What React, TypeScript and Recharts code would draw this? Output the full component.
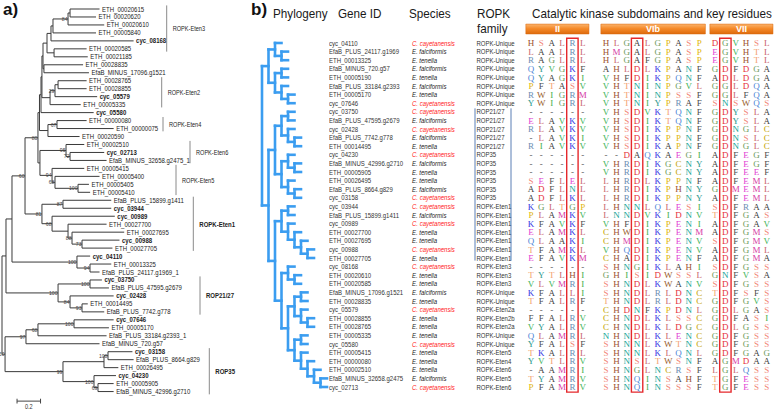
import React from "react";
import { ScatterChart, Scatter, XAxis, YAxis, ReferenceLine, ReferenceArea } from "recharts";

const SANS = "'Liberation Sans', Arial, Helvetica, sans-serif";
const SERIF = "'Liberation Serif', 'Times New Roman', serif";

// ---------- a) ML tree ----------
// leaves top to bottom, and their distance from the root (subst./site)
const A_LEAVES = [
  "ETH_00020615", "ETH_00020620", "ETH_00020610", "ETH_00005840", "cyc_08168",
  "ETH_00020585", "ETH_00021185", "ETH_00028835", "EfaB_MINUS_17096.g1521", "ETH_00028765",
  "ETH_00028855", "cyc_05579", "ETH_00005335", "cyc_05580", "ETH_00000080",
  "ETH_00000075", "ETH_00020590", "ETH_00002510", "cyc_02713", "EfaB_MINUS_32658.g2475_1",
  "ETH_00005415", "ETH_00005400", "ETH_00005405", "ETH_00005410", "EfaB_PLUS_15899.g1411",
  "cyc_03944", "cyc_00989", "ETH_00027700", "ETH_00027695", "cyc_00988",
  "ETH_00027705", "cyc_04110", "ETH_00013325", "EfaB_PLUS_24117.g1969_1", "cyc_03750",
  "EfaB_PLUS_47595.g2679", "cyc_02428", "ETH_00014495", "EfaB_PLUS_7742.g778", "cyc_07646",
  "ETH_00005170", "EfaB_PLUS_33184.g2393_1", "EfaB_MINUS_720.g57", "cyc_03158", "EfaB_PLUS_8664.g829",
  "ETH_00026495", "cyc_04230", "ETH_00005905", "EfaB_MINUS_42996.g2710",
];
const A_TIP = [
  0.83, 0.8, 0.87, 0.8, 1.12, 0.72, 0.73, 0.69, 0.74, 0.72,
  0.72, 0.81, 0.67, 0.78, 0.72, 0.95, 0.66, 0.7, 0.87, 0.89,
  0.7, 0.83, 0.74, 0.75, 0.93, 0.93, 0.96, 0.89, 1.04, 1.0,
  0.94, 0.75, 0.93, 0.83, 0.85, 0.91, 0.95, 0.73, 0.87, 0.95,
  0.91, 0.89, 0.83, 1.11, 1.12, 0.99, 0.97, 0.95, 0.95,
];

type TreeNode = { d: number; s: number | null; c: Array<TreeNode | number> };
const n = (d: number, s: number | null, ...c: Array<TreeNode | number>): TreeNode => ({ d, s, c });

// internal nodes: depth from root, bootstrap, children (numbers = leaf index)
const A_TREE = n(0, null,
  n(0.034, null,
    n(0.085, null,
      n(0.196, 60,
        n(0.306, 80,
          n(0.319, null,
            n(0.332, null,
              n(0.34, null,
                n(0.349, null,
                  n(0.383, null,
                    n(0.417, null,
                      n(0.434, null, n(0.562, 84, n(0.579, null, 1, 2), 3), 4),
                      5),
                    n(0.443, null, 6, 7)),
                  n(0.357, null, 8, 9)),
                n(0.409, null, n(0.451, 29, n(0.477, null, 10, 11), 12), 13)),
              14),
            n(0.391, null, n(0.468, 67, 15, 16), 17)),
          n(0.323, null,
            n(0.545, 95, 18, n(0.579, 72, 19, 20)),
            n(0.426, 94, 21, n(0.451, 68, 22, n(0.647, 100, 23, 24))))),
        n(0.34, 81,
          n(0.519, 87, 25, 26),
          n(0.426, 68, 27, n(0.562, null, 28, n(0.596, 88, 29, n(0.681, 73, 30, 31)))))),
      n(0.638, 100, 32, n(0.749, 94, 33, 34))),
    n(0.477, 100, n(0.749, 100, 35, 36), n(0.579, 84, 37, n(0.681, 93, 38, 39)))),
  n(0.026, 50,
    n(0.204, 97, n(0.306, 68, n(0.613, 100, 40, 41), 42), 43),
    n(0.519, 99,
      n(0.868, null, n(0.902, 100, 44, 45), 46),
      n(0.783, 100, 47, n(0.817, 69, 48, 49)))));

const A_CLADE_NAMES = ["ROPK-Eten3", "ROPK-Eten2", "ROPK-Eten4", "ROPK-Eten6", "ROPK-Eten5", "ROPK-Eten1", "ROP21/27", "ROP35"];
const A_CLADE_FIRST = [1, 10, 15, 18, 21, 25, 35, 44];
const A_CLADE_LAST = [6, 13, 16, 20, 24, 31, 39, 49];
const A_CLADE_BOLD = ["ROPK-Eten1", "ROP21/27", "ROP35"];
const SCALE_BAR = 0.2;

// ---------- b) table ----------
const CC = "C. cayetanensis", EF = "E. falciformis", ET = "E. tenella";
const B_GENES = [
  "cyc_04110", "EfaB_PLUS_24117.g1969", "ETH_00013325", "EfaB_MINUS_720.g57", "ETH_00005190",
  "EfaB_PLUS_33184.g2393", "ETH_00005170", "cyc_07646", "cyc_03750", "EfaB_PLUS_47595.g2679",
  "cyc_02428", "EfaB_PLUS_7742.g778", "ETH_00014495", "cyc_04230", "EfaB_MINUS_42996.g2710",
  "ETH_00005905", "ETH_00026495", "EfaB_PLUS_8664.g829", "cyc_03158", "cyc_03944",
  "EfaB_PLUS_15899.g1411", "cyc_00989", "ETH_00027700", "ETH_00027695", "cyc_00988",
  "ETH_00027705", "cyc_08168", "ETH_00020610", "ETH_00020585", "EfaB_MINUS_17096.g1521",
  "ETH_00028835", "cyc_05579", "ETH_00028855", "ETH_00028765", "ETH_00005335",
  "cyc_05580", "ETH_00005415", "ETH_00000080", "ETH_00002510", "EfaB_MINUS_32658.g2475",
  "cyc_02713",
];
const B_SPECIES = [
  CC, EF, ET, EF, ET, EF, ET, CC, CC, EF, CC, EF, ET, CC, EF, ET, ET, EF, CC, CC, EF,
  CC, ET, ET, CC, ET, CC, ET, ET, EF, ET, CC, ET, ET, ET, CC, ET, ET, ET, EF, CC,
];
const B_FAMILY = [
  "ROPK-Unique", "ROPK-Unique", "ROPK-Unique", "ROPK-Unique", "ROPK-Unique", "ROPK-Unique", "ROPK-Unique", "ROPK-Unique",
  "ROP21/27", "ROP21/27", "ROP21/27", "ROP21/27", "ROP21/27",
  "ROP35", "ROP35", "ROP35", "ROP35", "ROP35", "ROP35",
  "ROPK-Eten1", "ROPK-Eten1", "ROPK-Eten1", "ROPK-Eten1", "ROPK-Eten1", "ROPK-Eten1", "ROPK-Eten1",
  "ROPK-Eten3", "ROPK-Eten3", "ROPK-Eten3", "ROPK-Unique", "ROPK-Unique",
  "ROPK-Eten2a", "ROPK-Eten2b", "ROPK-Eten2a", "ROPK-Unique", "ROPK-Unique",
  "ROPK-Eten5", "ROPK-Eten4", "ROPK-Eten6", "ROPK-Eten5", "ROPK-Eten6",
];
const B_BRACKET_ROWS = [9, 26];

type BNode = number | BNode[];
const B_TREE: BNode = [
  [[1, [2, 3]], [[4, 5], [6, [7, 8]]]],
  [
    [[[9, 10], [11, [12, 13]]], [[14, [15, 16]], [17, [18, 19]]]],
    [
      [[20, 21], [22, [23, [24, [25, 26]]]]],
      [[27, [28, 29]], [[[30, 31], [32, [33, 34]]], [[35, 36], [37, [38, [39, [40, 41]]]]]]],
    ],
  ],
];

const SUBDOMAINS = ["II", "VIb", "VII"];
const KEY_COLUMN = [4, 3, 1];
const ALIGN_II = [
  "HSALRL", "LAALRL", "RAGLRL", "QYVGKF", "QYAGKI", "PFTASV", "RWIGRM", "YWIGRL", "------", "ELAVKV",
  "RLAVKV", "-LAVKI", "RIAVKV", "------", "------", "------", "SEFLEL", "ADFLNL", "ADFLKL", "KGLTGP",
  "PLAMKV", "KFAVKF", "ELAMKL", "QLAAKI", "TFAMKL", "EFAVKM", "------", "TYTLHI", "VLVMRI", "KFALLI",
  "TFALRF", "------", "FFALRV", "VYALRV", "QLAMRL", "YFALSF", "TKALRL", "YVTLRV", "-AAMRI", "TYAMRV",
  "PFAMRV",
];
const ALIGN_VIB = [
  "HLGALGPASP", "HMGALGPASP", "HLGAFGPASP", "AHLDLKPANF", "VHFDIKPQNF", "VHTNINPGVL", "VHTNINPSSF",
  "VHTNIYPRAF", "VHSDVKTQNF", "VHSDIKTQNF", "VHSDIKPPNF", "VHSDIKPPNF", "VHSDIKAPNF", "--DAQKAEGI",
  "VHRDIKGCNY", "VHRDIKGCNY", "LHRDLKPPNF", "LHRDIKPHNY", "LHRDIKPPNY", "LHNNLQLESI", "LNNDVKIDNV",
  "VHFDIKPENI", "CHWDIKPENM", "CHMDIKPENV", "VHQDIKPENV", "CHADIKPENF", "SHNGIKLAHI", "GHISIDWSSL",
  "SHNDLKWANV", "SHNDLRLDNC", "THNDLRLDNC", "CHDNFKPDNL", "CHNDLKLSSC", "CHNDLKLDGC", "NHNDLKLENC",
  "SHNNLKWTNC", "SHNNLKLQNL", "SHNSLTWSNF", "SHNGLNCRSF", "SHNQINSAHF", "SHNQINSSSF",
];
const ALIGN_VII = [
  "DGVHSL", "EGVHTL", "EGVHTL", "GDFDGA", "ADLDGA", "GGLDQA", "GGLFQA", "SNSWQS", "GDYSLA", "GDYSLA",
  "GDNGLC", "GDNSLC", "GDNGLC", "ADFEGF", "ADFEGF", "ADFEEF", "ADFEML", "GDMEML", "ADFEML", "SDFRAA",
  "TDFGAS", "ADFGAV", "ADFGMS", "SDFGMV", "ADFGML", "ADFGMA", "SDFGSS", "GNFVSA", "SDFGSS", "TDFSFS",
  "GDFGVS", "GDLGAS", "GDFASI", "GDLGSS", "GDFGSS", "GDFGSS", "GDFGAG", "AGMDAA", "LGLQSS", "TGFESS",
  "TGFESS",
];

// ---------- styling / layout ----------
const RES_COLOR: Record<string, string> = {
  A: "#3a3a3a", C: "#c4a300", D: "#e5303a", E: "#df3fd3", F: "#4b4b4b", G: "#6c9c5c", H: "#9c5130",
  I: "#44ae4a", K: "#3434e2", L: "#c8626a", M: "#d63aa6", N: "#15a596", P: "#e0b50a", Q: "#4d86d6",
  R: "#6c8db2", S: "#f2887a", T: "#f39e6e", V: "#3db358", W: "#98602e", Y: "#2b988c", "-": "#555",
};
const TREE_BLUE = "#3b9df0";

const A_PX = 117.5; // px per unit of distance
const A_XDOM = [-2 / A_PX, 248 / A_PX];
const A_ROW = 7.97;
const A_YDOM = [1 - 9 / A_ROW, 1 + 401 / A_ROW];
const A_CLADE_BAR_PX = [166.7, 161.7, 163, 190, 176, 193.3, 200, 209.3];
const SCALE_BAR_X = 0.128;
const SCALE_BAR_ROW = 50.2;

const B_ROW = 8.6;
const B_YDOM = [1 - 43 / B_ROW, 1 + 367 / B_ROW];
const B_STEP = 6.5;
const B_TREE_XDOM = [-7 / B_STEP, 68 / B_STEP];

const COL_PX = 10.35;
const ALN_XDOM = [-11 / COL_PX, 247 / COL_PX];
const GROUP_START = [0, 7.25, 17.78];

const ZERO = { top: 0, right: 0, bottom: 0, left: 0 };

function STxt({ x, y, size = 7, sx = 0.86, children, ...rest }: any) {
  return (
    <text transform={`translate(${x} ${y}) scale(${sx} 1)`} fontSize={size} fontFamily={SANS} {...rest}>
      {children}
    </text>
  );
}

type Seg = { x1: number; y1: number; x2: number; y2: number };

function layoutA(node: TreeNode | number, segs: Seg[], inner: any[]): { x: number; y: number } {
  if (typeof node === "number") return { x: A_TIP[node - 1], y: node };
  const kids = node.c.map((k) => layoutA(k, segs, inner));
  const y0 = kids[0].y, y1 = kids[kids.length - 1].y;
  segs.push({ x1: node.d, y1: y0, x2: node.d, y2: y1 });
  kids.forEach((k) => segs.push({ x1: node.d, y1: k.y, x2: k.x, y2: k.y }));
  const y = (y0 + y1) / 2;
  if (node.s != null) inner.push({ x: node.d, y, s: node.s });
  return { x: node.d, y };
}

function layoutB(node: BNode, depth: number, segs: Seg[]): { x: number; y: number } {
  if (typeof node === "number") return { x: depth, y: node };
  const kids = node.map((k) => layoutB(k, depth + 1, segs));
  const y0 = kids[0].y, y1 = kids[kids.length - 1].y;
  segs.push({ x1: depth, y1: y0, x2: depth, y2: y1 });
  kids.forEach((k) => segs.push({ x1: depth, y1: k.y, x2: k.x, y2: k.y }));
  return { x: depth, y: (y0 + y1) / 2 };
}

const LeafLabel = (p: any) => (
  <STxt x={p.cx + 2.5} y={p.cy + 2.5} fill="#222" fontWeight={p.payload.bold ? 700 : 400}>
    {p.payload.name}
  </STxt>
);
const SupportLabel = (p: any) => (
  <STxt x={p.cx - 0.5} y={p.cy + 2} size={6} fill="#444" textAnchor="end">
    {p.payload.s}
  </STxt>
);
const CladeLabel = (p: any) => (
  <STxt x={p.cx + 6} y={p.cy + 2.5} sx={p.payload.bold ? 0.86 : 0.8} fill="#222" fontWeight={p.payload.bold ? 700 : 400}>
    {p.payload.label}
  </STxt>
);
const ScaleLabel = (p: any) => (
  <STxt x={p.cx} y={p.cy + 7.5} size={6.5} fill="#333" textAnchor="middle">
    {p.payload.label}
  </STxt>
);

function PanelA() {
  const segs: Seg[] = [];
  const inner: any[] = [];
  layoutA(A_TREE, segs, inner);
  const leaves = A_LEAVES.map((name, i) => ({ x: A_TIP[i], y: i + 1, name, bold: name.startsWith("cyc_") }));
  const clades = A_CLADE_NAMES.map((label, i) => ({
    label,
    bold: A_CLADE_BOLD.includes(label),
    x: (A_CLADE_BAR_PX[i] - 2) / A_PX,
    y: (A_CLADE_FIRST[i] + A_CLADE_LAST[i]) / 2,
    y0: A_CLADE_FIRST[i] - 0.45,
    y1: A_CLADE_LAST[i] + 0.35,
  }));
  const sbEnd = SCALE_BAR_X + SCALE_BAR;
  return (
    <ScatterChart width={250} height={410} margin={ZERO}>
      <XAxis type="number" dataKey="x" domain={A_XDOM} hide allowDataOverflow />
      <YAxis type="number" dataKey="y" domain={A_YDOM} reversed hide allowDataOverflow />
      {segs.map((s, i) => (
        <ReferenceLine key={`a${i}`} segment={[{ x: s.x1, y: s.y1 }, { x: s.x2, y: s.y2 }]} stroke="#3a3a3a" strokeWidth={1} />
      ))}
      {clades.map((c) => (
        <ReferenceLine key={c.label} segment={[{ x: c.x, y: c.y0 }, { x: c.x, y: c.y1 }]} stroke="#8a8a8a" strokeWidth={1} />
      ))}
      <ReferenceLine segment={[{ x: SCALE_BAR_X, y: SCALE_BAR_ROW }, { x: sbEnd, y: SCALE_BAR_ROW }]} stroke="#444" />
      <ReferenceLine segment={[{ x: SCALE_BAR_X, y: SCALE_BAR_ROW - 0.3 }, { x: SCALE_BAR_X, y: SCALE_BAR_ROW + 0.3 }]} stroke="#444" />
      <ReferenceLine segment={[{ x: sbEnd, y: SCALE_BAR_ROW - 0.3 }, { x: sbEnd, y: SCALE_BAR_ROW + 0.3 }]} stroke="#444" />
      <Scatter data={leaves} shape={LeafLabel} isAnimationActive={false} />
      <Scatter data={inner} shape={SupportLabel} isAnimationActive={false} />
      <Scatter data={clades} shape={CladeLabel} isAnimationActive={false} />
      <Scatter data={[{ x: SCALE_BAR_X + SCALE_BAR / 2, y: SCALE_BAR_ROW, label: String(SCALE_BAR) }]} shape={ScaleLabel} isAnimationActive={false} />
    </ScatterChart>
  );
}

function PanelBTree() {
  const segs: Seg[] = [];
  layoutB(B_TREE, 0, segs);
  return (
    <ScatterChart width={75} height={410} margin={ZERO}>
      <XAxis type="number" dataKey="x" domain={B_TREE_XDOM} hide allowDataOverflow />
      <YAxis type="number" dataKey="y" domain={B_YDOM} reversed hide allowDataOverflow />
      {segs.map((s, i) => (
        <ReferenceLine
          key={`b${i}`}
          segment={[{ x: s.x1, y: s.y1 }, { x: s.x2, y: s.y2 }]}
          stroke={TREE_BLUE}
          strokeWidth={2.6}
          strokeLinecap="square"
        />
      ))}
    </ScatterChart>
  );
}

const TableRow = (p: any) => {
  const d = p.payload;
  const red = d.species === CC;
  return (
    <g>
      <STxt x={p.cx} y={p.cy + 2.5} fill="#333">{d.gene}</STxt>
      <STxt x={p.cx + 83} y={p.cy + 2.5} fill={red ? "#ff1a1a" : "#222"} fontStyle="italic">{d.species}</STxt>
      <STxt x={p.cx + 147.5} y={p.cy + 2.5} fill="#333">{d.family}</STxt>
    </g>
  );
};

function PanelBTable() {
  const rows = B_GENES.map((gene, i) => ({ x: 0, y: i + 1, gene, species: B_SPECIES[i], family: B_FAMILY[i] }));
  const [r0, r1] = B_BRACKET_ROWS;
  return (
    <ScatterChart width={200} height={410} margin={ZERO}>
      <XAxis type="number" dataKey="x" domain={[0, 200]} hide allowDataOverflow />
      <YAxis type="number" dataKey="y" domain={B_YDOM} reversed hide allowDataOverflow />
      <ReferenceLine segment={[{ x: 146, y: r0 - 0.4 }, { x: 146, y: r1 + 0.3 }]} stroke="#5b7fb5" strokeWidth={1} />
      <ReferenceLine segment={[{ x: 182, y: r0 - 0.4 }, { x: 182, y: r1 + 0.3 }]} stroke="#5b7fb5" strokeWidth={1} />
      <Scatter data={rows} shape={TableRow} isAnimationActive={false} />
    </ScatterChart>
  );
}

const Residue = (p: any) => (
  <text
    x={p.cx}
    y={p.cy + 3.2}
    textAnchor="middle"
    fontSize={9}
    fontFamily={SERIF}
    fill={RES_COLOR[p.payload.ch] || "#444"}
  >
    {p.payload.ch}
  </text>
);

function Alignment() {
  const blocks = [ALIGN_II, ALIGN_VIB, ALIGN_VII];
  const letters: any[] = [];
  blocks.forEach((block, g) =>
    block.forEach((seq, r) =>
      seq.split("").forEach((ch, i) => letters.push({ x: GROUP_START[g] + i, y: r + 1, ch }))
    )
  );
  return (
    <ScatterChart width={258} height={410} margin={ZERO}>
      <defs>
        <linearGradient id="orangeHdr" x1="0" y1="0" x2="0" y2="1">
          <stop offset="0%" stopColor="#fbb46e" />
          <stop offset="45%" stopColor="#f58a2a" />
          <stop offset="100%" stopColor="#dd6a0c" />
        </linearGradient>
      </defs>
      <XAxis type="number" dataKey="x" domain={ALN_XDOM} hide allowDataOverflow />
      <YAxis type="number" dataKey="y" domain={B_YDOM} reversed hide allowDataOverflow />
      {SUBDOMAINS.map((name, g) => (
        <ReferenceArea
          key={name}
          x1={GROUP_START[g] - 0.5}
          x2={GROUP_START[g] + blocks[g][0].length - 0.4}
          y1={-1.2}
          y2={-0.05}
          fill="url(#orangeHdr) #f28a2e"
          fillOpacity={1}
          stroke="#d9670c"
          strokeWidth={0.5}
          label={{ value: name, position: "center", fill: "#fff", fontSize: 9, fontWeight: 700, fontFamily: SANS }}
        />
      ))}
      {SUBDOMAINS.map((name, g) => (
        <ReferenceArea
          key={`k${name}`}
          x1={GROUP_START[g] + KEY_COLUMN[g] - 0.55}
          x2={GROUP_START[g] + KEY_COLUMN[g] + 0.55}
          y1={0.45}
          y2={41.6}
          fill="none"
          stroke="#e5282c"
          strokeWidth={1.4}
        />
      ))}
      <Scatter data={letters} shape={Residue} isAnimationActive={false} />
    </ScatterChart>
  );
}

function Headers() {
  return (
    <svg width={778} height={410} style={{ position: "absolute", left: 0, top: 0, pointerEvents: "none" }}>
      <text x={3} y={15} fontSize={17} fontWeight={700} fontFamily={SANS} fill="#111">a)</text>
      <text x={251} y={15} fontSize={17} fontWeight={700} fontFamily={SANS} fill="#111">b)</text>
      <STxt x={273} y={18} size={13} sx={0.9} fill="#1a1a1a">Phylogeny</STxt>
      <STxt x={338} y={18} size={13} sx={0.9} fill="#1a1a1a">Gene ID</STxt>
      <STxt x={409} y={18} size={13} sx={0.9} fill="#1a1a1a">Species</STxt>
      <STxt x={477} y={18} size={13} sx={0.9} fill="#1a1a1a">ROPK</STxt>
      <STxt x={477} y={33} size={13} sx={0.9} fill="#1a1a1a">family</STxt>
      <STxt x={532} y={18} size={13} sx={0.9} fill="#1a1a1a">Catalytic kinase subdomains and key residues</STxt>
    </svg>
  );
}

export default function App() {
  return (
    <div style={{ position: "absolute", left: 0, top: 0, width: 778, height: 410, background: "#fff", overflow: "hidden" }}>
      <div style={{ position: "absolute", left: 0, top: 0 }}>
        <PanelA />
      </div>
      <div style={{ position: "absolute", left: 255, top: 0 }}>
        <PanelBTree />
      </div>
      <div style={{ position: "absolute", left: 329, top: 0 }}>
        <PanelBTable />
      </div>
      <div style={{ position: "absolute", left: 520, top: 0 }}>
        <Alignment />
      </div>
      <Headers />
    </div>
  );
}
